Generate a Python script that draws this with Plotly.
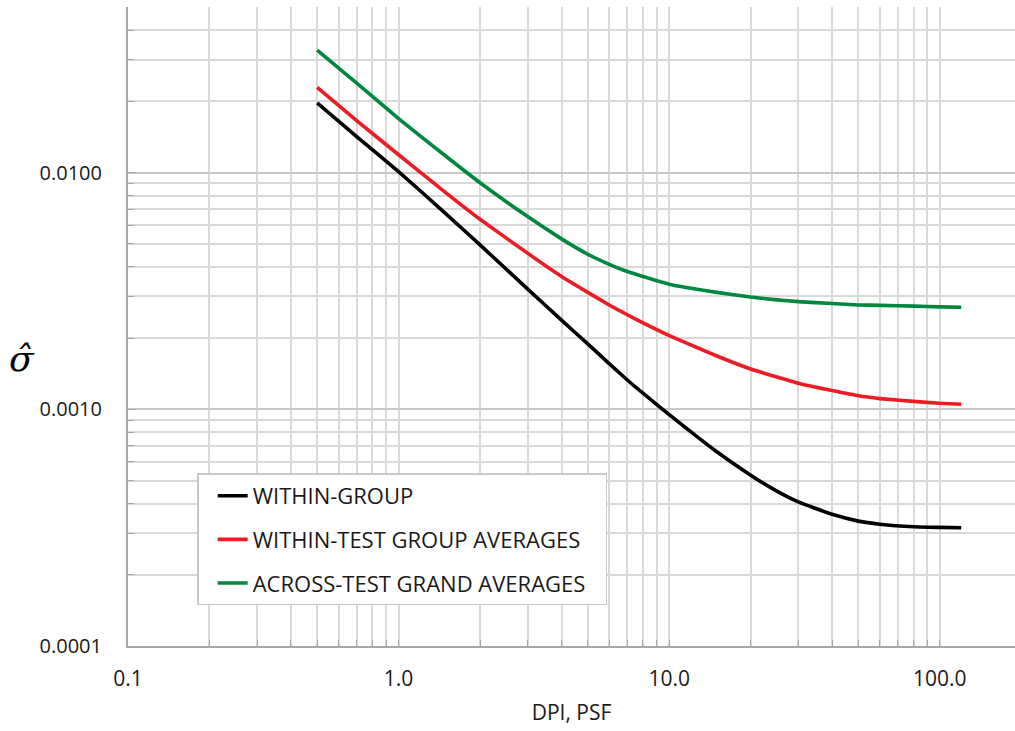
import numpy as np
import plotly.graph_objects as go

# DPI values (psf) at which the standard-deviation curves are evaluated
dpi = [0.5, 0.7, 1.0, 1.5, 2.0, 3.0, 4.0, 5.0, 6.0, 7.0, 8.0, 10.0, 15.0, 20.0, 25.0,
       30.0, 40.0, 50.0, 60.0, 80.0, 100.0, 120.0]

# Estimated standard deviation for each variance component
within_group = [0.0197, 0.0142, 0.0101, 0.00668, 0.00495, 0.00322, 0.00238, 0.00189, 0.00156,
                0.00133, 0.00117, 0.00095, 0.000662, 0.000527, 0.000451, 0.000406, 0.00036,
                0.000337, 0.000327, 0.000319, 0.000317, 0.000316]
within_test_avg = [0.0229, 0.01658, 0.0119, 0.0082, 0.00635, 0.00456, 0.00364, 0.00312, 0.00276,
                   0.00251, 0.00232, 0.00205, 0.00168, 0.00148, 0.00137, 0.00129, 0.0012,
                   0.00114, 0.00111, 0.00108, 0.00106, 0.00105]
across_test_avg = [0.0329, 0.0239, 0.0169, 0.0117, 0.00906, 0.00652, 0.00525, 0.00452, 0.0041,
                   0.00382, 0.00364, 0.00338, 0.00312, 0.00298, 0.0029, 0.00285, 0.0028,
                   0.00276, 0.00275, 0.00273, 0.00271, 0.0027]

series_names = ["WITHIN-GROUP", "WITHIN-TEST GROUP AVERAGES", "ACROSS-TEST GRAND AVERAGES"]
series_colors = ["#000000", "#ED1C24", "#00873E"]

x_tickvals = [0.1, 1.0, 10.0, 100.0]
x_ticktext = ["0.1", "1.0", "10.0", "100.0"]
y_tickvals = [0.0001, 0.001, 0.01]
y_ticktext = ["0.0001", "0.0010", "0.0100"]

x_minor = [m * d for d in (0.1, 1.0, 10.0, 100.0) for m in range(2, 10)]
y_minor = [m * d for d in (0.0001, 0.001) for m in range(2, 10)] + [0.02, 0.03, 0.04, 0.05]

FONT = "Open Sans"
GRID = "#d9d9d9"
AXIS = "#a6a6a6"
TEXT = "#1a1a1a"

# trailing spaces on the longest entry give the legend box some room on the right
legend_pad = "\u00a0\u00a0\u2009"

fig = go.Figure()
for i, (name, ys, col) in enumerate(zip(series_names,
                                        [within_group, within_test_avg, across_test_avg],
                                        series_colors)):
    label = name + legend_pad if i == 2 else name
    fig.add_trace(go.Scatter(
        x=dpi, y=ys, mode="lines", name=label, legendgroup=f"g{i}",
        line=dict(color=col, width=3.6, shape="spline", smoothing=0.4),
    ))

fig.update_xaxes(
    type="log", range=[-1, 2.278],
    tickmode="array", tickvals=x_tickvals, ticktext=x_ticktext,
    ticks="inside", ticklen=6, tickcolor=AXIS, tickwidth=1,
    showline=True, linecolor=AXIS, linewidth=2,
    showgrid=True, gridcolor=GRID, gridwidth=1.5,
    minor=dict(tickmode="array", tickvals=x_minor, ticks="inside", ticklen=6,
               tickcolor=AXIS, showgrid=True, gridcolor=GRID, gridwidth=1.5),
    tickfont=dict(family=FONT, size=21, color=TEXT),
    ticklabelstandoff=13,
    title=dict(text="DPI, PSF", font=dict(family=FONT, size=21, color=TEXT), standoff=14),
    zeroline=False,
)
fig.update_yaxes(
    type="log", range=[-4, np.log10(0.05) + 0.0008],
    tickmode="array", tickvals=y_tickvals, ticktext=y_ticktext,
    ticks="inside", ticklen=8, tickcolor=AXIS, tickwidth=1,
    showline=True, linecolor=AXIS, linewidth=2,
    showgrid=True, gridcolor="#c8c8c8", gridwidth=2,
    minor=dict(tickmode="array", tickvals=y_minor, ticks="inside", ticklen=6,
               tickcolor=AXIS, showgrid=True, gridcolor=GRID, gridwidth=1.5),
    tickfont=dict(family=FONT, size=20, color=TEXT),
    ticklabelstandoff=20,
    zeroline=False,
)

fig.add_annotation(
    text="<i>σ\u0302</i>", xref="paper", yref="paper", x=-0.119, y=0.45,
    xanchor="center", yanchor="middle", showarrow=False,
    font=dict(family="DejaVu Serif", size=36, color="#000000"),
)

fig.update_layout(
    width=1015, height=731,
    margin=dict(l=128, r=0, t=7, b=85),
    paper_bgcolor="white", plot_bgcolor="white",
    showlegend=True,
    legend=dict(
        x=0.078, y=0.27, xanchor="left", yanchor="top",
        bgcolor="white", bordercolor="#c8c8c8", borderwidth=1.5,
        font=dict(family=FONT, size=22, color=TEXT),
        tracegroupgap=12, itemwidth=30, indentation=14,
    ),
)

fig.write_html("out.html")
